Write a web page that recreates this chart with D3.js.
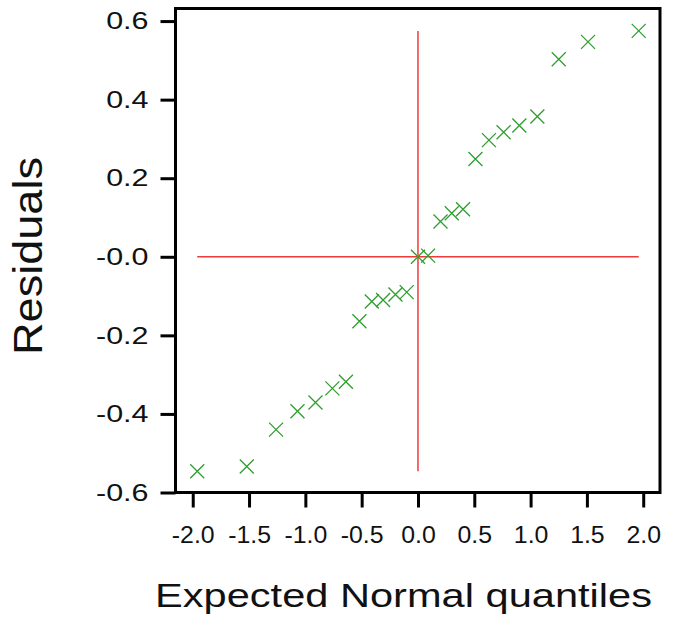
<!DOCTYPE html>
<html>
<head>
<meta charset="utf-8">
<script src="https://cdn.jsdelivr.net/npm/d3@7"></script>
<style>
  body { margin: 0; background: #fff; }
  svg { display: block; font-family: "Liberation Sans", Arial, sans-serif; }
</style>
</head>
<body>
<script>
// values
const quantiles = [-1.96, -1.52, -1.26, -1.07, -0.91, -0.76, -0.64, -0.52, -0.41, -0.31, -0.20, -0.10,
                   0.00, 0.09, 0.20, 0.30, 0.40, 0.51, 0.63, 0.76, 0.90, 1.06, 1.25, 1.51, 1.96];
const residuals = [-0.546, -0.534, -0.440, -0.393, -0.371, -0.335, -0.318, -0.164, -0.114, -0.110, -0.096, -0.090,
                   0.000, 0.003, 0.090, 0.111, 0.121, 0.249, 0.297, 0.317, 0.334, 0.357, 0.503, 0.547, 0.575];
const xTicks = [-2.0, -1.5, -1.0, -0.5, 0.0, 0.5, 1.0, 1.5, 2.0];
const xTickLabels = ["-2.0", "-1.5", "-1.0", "-0.5", "0.0", "0.5", "1.0", "1.5", "2.0"];
const yTicks = [0.6, 0.4, 0.2, 0.0, -0.2, -0.4, -0.6];
const yTickLabels = ["0.6", "0.4", "0.2", "-0.0", "-0.2", "-0.4", "-0.6"];

const w = 685, h = 639;
const plotL = 175.5, plotR = 660, plotT = 8.5, plotB = 492.5;

const svg = d3.select("body").append("svg").attr("width", w).attr("height", h);

const x = d3.scaleLinear().domain([-2.153, 2.149]).range([plotL, plotR]);
const y = d3.scaleLinear().domain([-0.6, 0.632]).range([plotB, plotT]);

// reference lines through zero, spanning the data extents
const xExt = d3.extent(quantiles), yExt = d3.extent(residuals);
svg.append("line")
  .attr("x1", x(xExt[0])).attr("x2", x(xExt[1]))
  .attr("y1", y(0)).attr("y2", y(0))
  .attr("stroke", "#f03a3a").attr("stroke-width", 1.5);
svg.append("line")
  .attr("x1", x(0)).attr("x2", x(0))
  .attr("y1", y(yExt[0])).attr("y2", y(yExt[1]))
  .attr("stroke", "#f03a3a").attr("stroke-width", 1.5);

// x markers
const pts = quantiles.map((q, i) => ({q: q, r: residuals[i]}));
const m = 7;
svg.append("g").selectAll("path")
  .data(pts)
  .enter()
  .append("path")
  .attr("d", d => {
    const px = x(d.q), py = y(d.r);
    const p = d3.path();
    p.moveTo(px - m, py - m); p.lineTo(px + m, py + m);
    p.moveTo(px - m, py + m); p.lineTo(px + m, py - m);
    return p;
  })
  .attr("stroke", "#2e9e2e").attr("stroke-width", 1.3).attr("fill", "none");

// axes
const gx = svg.append("g").attr("transform", `translate(0,${plotB})`)
  .call(d3.axisBottom(x).tickValues(xTicks).tickFormat((d, i) => xTickLabels[i])
        .tickSize(15).tickSizeOuter(0).tickPadding(19));
const gy = svg.append("g").attr("transform", `translate(${plotL},0)`)
  .call(d3.axisLeft(y).tickValues(yTicks).tickFormat((d, i) => yTickLabels[i])
        .tickSize(15).tickSizeOuter(0).tickPadding(12));

[gx, gy].forEach(g => {
  g.select(".domain").remove();
  g.selectAll(".tick line").attr("stroke", "#000").attr("stroke-width", 3);
  g.selectAll(".tick text").attr("fill", "#111").attr("font-family", "Liberation Sans, Arial, sans-serif");
});
gx.selectAll(".tick text").attr("font-size", 23);
gy.selectAll(".tick text").attr("font-size", 24);

// labels in the picture are drawn a bit wider than the font
function stretch(sel, k) {
  sel.each(function() {
    const len = this.getComputedTextLength();
    d3.select(this).attr("textLength", len * k).attr("lengthAdjust", "spacingAndGlyphs");
  });
}
stretch(gx.selectAll(".tick text"), 1.08);
stretch(gy.selectAll(".tick text"), 1.27);

// frame
svg.append("rect")
  .attr("x", plotL).attr("y", plotT)
  .attr("width", plotR - plotL).attr("height", plotB - plotT)
  .attr("fill", "none").attr("stroke", "#000").attr("stroke-width", 3);

// axis titles
svg.append("text")
  .attr("x", 403.5).attr("y", 607)
  .attr("text-anchor", "middle")
  .attr("font-size", 32.5)
  .attr("fill", "#111")
  .attr("textLength", 497).attr("lengthAdjust", "spacingAndGlyphs")
  .text("Expected Normal quantiles");

svg.append("text")
  .attr("transform", `translate(42,256) rotate(-90)`)
  .attr("text-anchor", "middle")
  .attr("font-size", 40.5)
  .attr("fill", "#111")
  .attr("textLength", 198).attr("lengthAdjust", "spacingAndGlyphs")
  .text("Residuals");
</script>
</body>
</html>
